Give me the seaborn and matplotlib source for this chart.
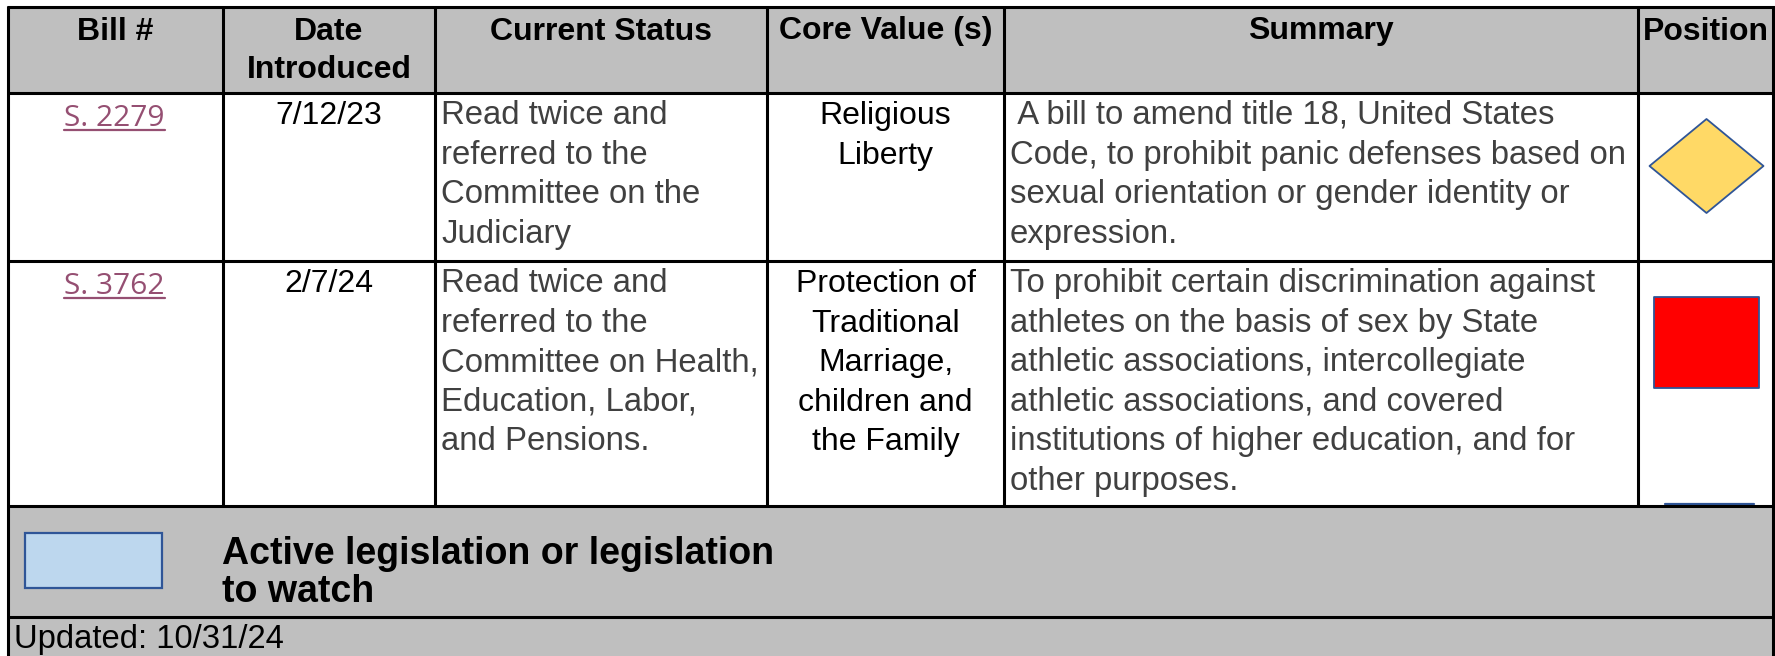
import matplotlib
matplotlib.use("Agg")
import matplotlib.pyplot as plt
import seaborn as sns
import pandas as pd
from matplotlib.path import Path
from matplotlib.patches import Rectangle

# ---------------- data ----------------
headers = ["Bill #", ["Date", "Introduced"], "Current Status", "Core Value (s)", "Summary", "Position"]
bill_numbers = ["S. 2279", "S. 3762"]
dates_introduced = ["7/12/23", "2/7/24"]
current_status = [
    ["Read twice and", "referred to the", "Committee on the", "Judiciary"],
    ["Read twice and", "referred to the", "Committee on Health,", "Education, Labor,", "and Pensions."],
]
core_values = [
    ["Religious", "Liberty"],
    ["Protection of", "Traditional", "Marriage,", "children and", "the Family"],
]
summaries = [
    [" A bill to amend title 18, United States", "Code, to prohibit panic defenses based on",
     "sexual orientation or gender identity or", "expression."],
    ["To prohibit certain discrimination against", "athletes on the basis of sex by State",
     "athletic associations, intercollegiate", "athletic associations, and covered",
     "institutions of higher education, and for", "other purposes."],
]
position_marks = ["diamond", "square"]
legend_label = ["Active legislation or legislation", "to watch"]
updated_text = "Updated: 10/31/24"

# ---------------- layout / style ----------------
W, H = 1775, 656
col_edges = [8, 223, 435, 767, 1004, 1638, 1773]
row_edges = [7, 93, 261, 506, 617]
GRAY = "#BFBFBF"
LINK = "#954F72"
DARK = "#404040"
EDGE_BLUE = "#2F5597"
LW = 2.2
FS = 23
FS_GRAY = 23.7
STEP = 39.6

sns.set_theme(style="white")
plt.rcParams["font.family"] = ["Liberation Sans", "DejaVu Sans"]

fig = plt.figure(figsize=(W / 100, H / 100), dpi=100)
ax = fig.add_axes([0, 0, 1, 1])
ax.set_xlim(0, W)
ax.set_ylim(H, 0)
ax.axis("off")
fig.patch.set_facecolor("white")

x0, x1 = col_edges[0], col_edges[-1]
# backgrounds
ax.add_patch(Rectangle((x0, row_edges[0]), x1 - x0, row_edges[1] - row_edges[0], fc=GRAY, ec="none", zorder=0))
ax.add_patch(Rectangle((x0, row_edges[3]), x1 - x0, H - row_edges[3], fc=GRAY, ec="none", zorder=0))

# grid lines
for y in row_edges:
    ax.plot([x0 - 1.5, x1 + 1.5], [y, y], color="black", lw=LW, solid_capstyle="butt", zorder=3)
for x in col_edges[1:-1]:
    ax.plot([x, x], [row_edges[0], row_edges[3]], color="black", lw=LW, solid_capstyle="butt", zorder=3)
for x in (col_edges[0], col_edges[-1]):
    ax.plot([x, x], [row_edges[0] - 1.5, H], color="black", lw=LW, solid_capstyle="butt", zorder=3)

centers = [(col_edges[i] + col_edges[i + 1]) / 2 for i in range(len(col_edges) - 1)]

# headers
for i, h in enumerate(headers):
    lines = h if isinstance(h, list) else [h]
    for j, ln in enumerate(lines):
        ax.text(centers[i], row_edges[0] + 32.5 + j * 38, ln, ha="center", va="baseline",
                fontsize=FS, fontweight="bold", color="black", zorder=4)

def draw_lines(x, top, lines, ha, color, fs):
    for j, ln in enumerate(lines):
        ax.text(x, top + 31 + j * STEP, ln, ha=ha, va="baseline", fontsize=fs, color=color, zorder=4)

link_texts = []
for r in range(len(bill_numbers)):
    top = row_edges[1 + r]
    t = ax.text(centers[0] - 1, top + 32.5, bill_numbers[r], ha="center", va="baseline",
                fontsize=21.5, color=LINK, family=["Open Sans", "DejaVu Sans"], zorder=4)
    link_texts.append((t, top + 37))
    draw_lines(centers[1], top, [dates_introduced[r]], "center", "black", FS)
    draw_lines(col_edges[2] + 6, top, current_status[r], "left", DARK, FS_GRAY)
    draw_lines(centers[3], top, core_values[r], "center", "black", FS)
    draw_lines(col_edges[4] + 6, top, summaries[r], "left", DARK, FS_GRAY)

# position markers via seaborn
diamond = Path([(0, 94 / 114), (1, 0), (0, -94 / 114), (-1, 0), (0, 94 / 114)],
               [Path.MOVETO, Path.LINETO, Path.LINETO, Path.LINETO, Path.CLOSEPOLY])
square = Path([(-1, 91 / 105), (1, 91 / 105), (1, -91 / 105), (-1, -91 / 105), (-1, 91 / 105)],
              [Path.MOVETO, Path.LINETO, Path.LINETO, Path.LINETO, Path.CLOSEPOLY])
marker_offsets = [73, 81]
pos_df = pd.DataFrame({
    "bill": bill_numbers,
    "position": position_marks,
    "x": [centers[5] + 1] * len(bill_numbers),
    "y": [row_edges[1 + i] + marker_offsets[i] for i in range(len(bill_numbers))],
})
sns.scatterplot(data=pos_df, x="x", y="y", hue="position", style="position", size="position",
                palette={"diamond": "#FFD966", "square": "#FF0000"},
                markers={"diamond": diamond, "square": square},
                sizes={"diamond": (114 * 0.72) ** 2, "square": (105 * 0.72) ** 2},
                edgecolor=EDGE_BLUE, linewidth=1.3, legend=False, ax=ax, zorder=5)
ax.set_xlim(0, W)
ax.set_ylim(H, 0)
ax.axis("off")

# small blue edge of a cut-off marker at bottom of position column
ax.plot([1665, 1754], [503.5, 503.5], color=EDGE_BLUE, lw=1.6, zorder=2)

# legend row
ax.add_patch(Rectangle((25, 533), 137, 55, fc="#BDD7EE", ec=EDGE_BLUE, lw=1.6, zorder=4))
for j, ln in enumerate(legend_label):
    ax.text(222, 564 + j * 38, ln, ha="left", va="baseline", fontsize=27,
            fontweight="bold", color="black", zorder=4)

ax.text(14, 648, updated_text, ha="left", va="baseline", fontsize=23.6, color="black", zorder=4)

# underline for links
fig.canvas.draw()
renderer = fig.canvas.get_renderer()
inv = ax.transData.inverted()
for t, yu in link_texts:
    bb = t.get_window_extent(renderer)
    (ux0, _), (ux1, _) = inv.transform([[bb.x0, bb.y0], [bb.x1, bb.y0]])
    ax.plot([ux0, ux1], [yu, yu], color=LINK, lw=1.6, zorder=4)

fig.savefig("out.png", dpi=100, facecolor="white")
